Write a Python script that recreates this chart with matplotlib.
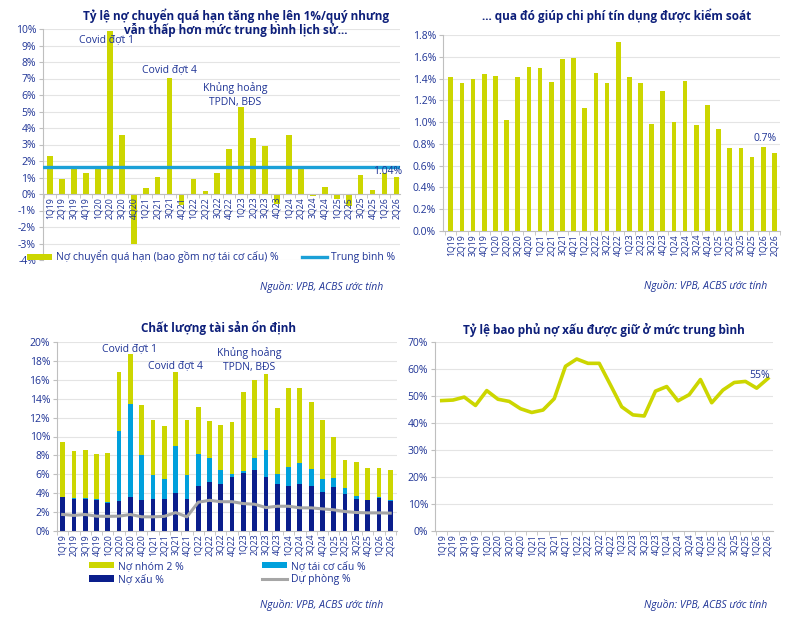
import numpy as np
import matplotlib

matplotlib.use("Agg")
import matplotlib.pyplot as plt
from matplotlib.ticker import FuncFormatter, MultipleLocator

plt.rcParams.update({
    "font.family": ["Open Sans", "DejaVu Sans"],
    "font.size": 7,
})

YEL = "#CCD600"
LBLUE = "#00A0DC"
NAVY = "#0A1E8C"
GRAY = "#A6A6A6"
AVG = "#1BA0D7"
TXT = "#1F3496"
TITLE = "#0D1F7A"
GRID = "#E4E4E4"

W, H = 788, 622

# ── data ────────────────────────────────────────────────────────────
quarters = ["1Q19", "2Q19", "3Q19", "4Q19", "1Q20", "2Q20", "3Q20", "4Q20",
            "1Q21", "2Q21", "3Q21", "4Q21", "1Q22", "2Q22", "3Q22", "4Q22",
            "1Q23", "2Q23", "3Q23", "4Q23", "1Q24", "2Q24", "3Q24", "4Q24",
            "1Q25", "2Q25", "3Q25", "4Q25", "1Q26", "2Q26"]

overdue = [2.3, 0.9, 1.5, 1.25, 1.55, 9.85, 3.55, -3.05, 0.35, 1.05,
           7.05, -0.65, 0.9, 0.2, 1.3, 2.75, 5.3, 3.4, 2.9, -0.6,
           3.55, 1.6, -0.15, 0.4, -0.32, -0.75, 1.15, 0.25, 1.25, 1.04]
overdue_avg = 1.63

credit_cost = [1.41, 1.36, 1.40, 1.44, 1.42, 1.02, 1.41, 1.51, 1.50, 1.37,
               1.58, 1.59, 1.13, 1.45, 1.36, 1.74, 1.41, 1.36, 0.98, 1.29,
               1.00, 1.38, 0.97, 1.16, 0.94, 0.76, 0.76, 0.68, 0.77, 0.72]

npl = [3.55, 3.4, 3.4, 3.3, 3.0, 3.2, 3.6, 3.3, 3.4, 3.4,
       4.0, 3.4, 4.8, 5.2, 5.0, 5.7, 6.15, 6.45, 5.7, 5.0,
       4.8, 5.0, 4.8, 4.15, 4.7, 3.9, 3.4, 3.3, 3.5, 3.2]
restructured = [0.1, 0.05, 0.05, 0.05, 0.05, 7.4, 9.8, 4.75, 2.55, 2.15,
                5.0, 2.55, 3.35, 2.5, 1.45, 0.35, 0.2, 1.3, 2.9, 1.0,
                2.0, 2.2, 1.8, 1.3, 0.95, 0.6, 0.35, 0.03, 0.1, 0.05]
group2 = [5.75, 5.05, 5.15, 4.8, 5.2, 6.2, 5.3, 5.25, 5.75, 5.55,
          7.8, 5.75, 4.95, 3.95, 4.75, 5.45, 8.35, 8.25, 8.0, 7.0,
          8.3, 7.9, 7.1, 6.3, 4.35, 3.0, 3.6, 3.3, 3.05, 3.2]
provision = [1.75, 1.65, 1.75, 1.57, 1.55, 1.57, 1.75, 1.5, 1.5, 1.55,
             1.95, 1.5, 3.04, 3.25, 3.1, 3.1, 2.9, 2.83, 2.48, 2.62,
             2.62, 2.45, 2.45, 2.34, 2.24, 2.06, 1.96, 1.92, 1.92, 1.89]

coverage = [48.3, 48.5, 49.6, 46.5, 52.0, 48.8, 48.0, 45.3, 43.9, 44.8,
            49.0, 61.0, 63.7, 62.1, 62.1, 54.1, 46.0, 43.0, 42.6, 51.8,
            53.5, 48.2, 50.5, 56.1, 47.5, 52.2, 55.0, 55.4, 52.9, 56.5]

SOURCE = "Nguồn: VPB, ACBS ước tính"


def box(l, t, r, b):
    return [l / W, 1 - b / H, (r - l) / W, (b - t) / H]


def fx(px):
    return px / W


def fy(py):
    return 1 - py / H


def style(ax, fmt):
    for s in ("top", "right"):
        ax.spines[s].set_visible(False)
    ax.spines["left"].set_color("#BFBFBF")
    ax.spines["bottom"].set_color("#BFBFBF")
    ax.yaxis.grid(True, color=GRID, lw=0.8)
    ax.set_axisbelow(True)
    ax.yaxis.set_major_formatter(FuncFormatter(fmt))
    ax.tick_params(axis="y", colors="#BFBFBF", labelcolor=TXT, labelsize=7.5,
                   length=3, pad=2)
    ax.tick_params(axis="x", colors="#BFBFBF", labelcolor=TXT, labelsize=6.3,
                   length=0, pad=2, rotation=90)
    ax.set_xticks(np.arange(len(quarters)))
    ax.set_xticklabels(quarters)
    ax.set_xticks(np.arange(len(quarters) + 1) - 0.5, minor=True)
    ax.tick_params(axis="x", which="minor", length=3, color="#BFBFBF")


fig = plt.figure(figsize=(W / 100, H / 100), dpi=100)
x = np.arange(len(quarters))

# ── top left: overdue loans ─────────────────────────────────────────
ax1 = fig.add_axes(box(43, 29, 400, 260))
style(ax1, lambda v, p: f"{v:.0f}%")
ax1.xaxis.set_zorder(3)  # quarter labels sit on top of the negative bars
b_over = ax1.bar(x, overdue, 0.48, color=YEL, zorder=2,
                 label="Nợ chuyển quá hạn (bao gồm nợ tái cơ cấu) %")
l_avg = ax1.axhline(overdue_avg, color=AVG, lw=2.4, zorder=3, label="Trung bình %")
ax1.set_ylim(-4, 10)
ax1.yaxis.set_major_locator(MultipleLocator(1))
ax1.set_xlim(-0.6, 29.3)
ax1.spines["bottom"].set_position(("data", 0))
ax1.text(28.3, overdue[-1] + 0.3, f"{overdue[-1]:.2f}%", ha="center",
         va="center", color=TXT, fontsize=7.5, zorder=4)
ax1.text(4.7, 9.33, "Covid đợt 1", ha="center", va="center", color=TXT, fontsize=7.5)
ax1.text(10.0, 7.55, "Covid đợt 4", ha="center", va="center", color=TXT, fontsize=7.5)
ax1.text(15.5, 6.0, "Khủng hoảng\nTPDN, BĐS", ha="center", va="center",
         color=TXT, fontsize=7.5, linespacing=1.3)
fig.legend(handles=[b_over, l_avg], loc="center", ncol=2, frameon=False,
           bbox_to_anchor=(fx(211), fy(257)), fontsize=7.5, labelcolor=TXT,
           handlelength=2.4, handleheight=0.55, columnspacing=2.2,
           handletextpad=0.4)
fig.text(fx(236), fy(16), "Tỷ lệ nợ chuyển quá hạn tăng nhẹ lên 1%/quý nhưng",
         ha="center", va="center", color=TITLE, fontsize=8.5, fontweight="bold")
fig.text(fx(236), fy(30), "vẫn thấp hơn mức trung bình lịch sử...",
         ha="center", va="center", color=TITLE, fontsize=8.5, fontweight="bold")
fig.text(fx(383), fy(287), SOURCE, ha="right", va="center", color=TXT,
         fontsize=7.5, style="italic")

# ── top right: credit cost ──────────────────────────────────────────
ax2 = fig.add_axes(box(443, 35, 780, 231))
style(ax2, lambda v, p: f"{v:.1f}%")
ax2.bar(x, credit_cost, 0.42, color=YEL, zorder=2)
ax2.set_ylim(0, 1.8)
ax2.yaxis.set_major_locator(MultipleLocator(0.2))
ax2.set_xlim(-0.7, 29.5)
ax2.text(28.2, credit_cost[-2] + 0.03, "0.7%", ha="center", va="bottom",
         color=TXT, fontsize=7.5)
fig.text(fx(617), fy(16), "... qua đó giúp chi phí tín dụng được kiểm soát",
         ha="center", va="center", color=TITLE, fontsize=8.5, fontweight="bold")
fig.text(fx(767), fy(286), SOURCE, ha="right", va="center", color=TXT,
         fontsize=7.5, style="italic")

# ── bottom left: asset quality ──────────────────────────────────────
ax3 = fig.add_axes(box(57, 342, 397, 531))
style(ax3, lambda v, p: f"{v:.0f}%")
bw = 0.42
h_npl = ax3.bar(x, npl, bw, color=NAVY, zorder=2, label="Nợ xấu %")
base = np.array(npl)
h_res = ax3.bar(x, restructured, bw, bottom=base, color=LBLUE, zorder=2,
                label="Nợ tái cơ cấu %")
base = base + np.array(restructured)
h_g2 = ax3.bar(x, group2, bw, bottom=base, color=YEL, zorder=2, label="Nợ nhóm 2 %")
h_prov, = ax3.plot(x, provision, color=GRAY, lw=2.2, zorder=3, label="Dự phòng %")
ax3.set_ylim(0, 20)
ax3.yaxis.set_major_locator(MultipleLocator(2))
ax3.set_xlim(-0.5, 29.6)
ax3.text(5.9, 19.3, "Covid đợt 1", ha="center", va="center", color=TXT, fontsize=7.5)
ax3.text(9.95, 17.45, "Covid đợt 4", ha="center", va="center", color=TXT, fontsize=7.5)
ax3.text(16.5, 18.1, "Khủng hoảng\nTPDN, BĐS", ha="center", va="center",
         color=TXT, fontsize=7.5, linespacing=1.3)
fig.legend(handles=[h_g2, h_npl, h_res, h_prov], loc="center", ncol=2,
           frameon=False, bbox_to_anchor=(fx(227), fy(573)), fontsize=7.5,
           labelcolor=TXT, handlelength=2.4, handleheight=0.55,
           columnspacing=7.5, handletextpad=0.4, labelspacing=0.25)
fig.text(fx(219), fy(328), "Chất lượng tài sản ổn định", ha="center",
         va="center", color=TITLE, fontsize=8.5, fontweight="bold")
fig.text(fx(383), fy(605), SOURCE, ha="right", va="center", color=TXT,
         fontsize=7.5, style="italic")

# ── bottom right: coverage ratio ────────────────────────────────────
ax4 = fig.add_axes(box(435, 342, 773, 531))
style(ax4, lambda v, p: f"{v:.0f}%")
ax4.plot(x, coverage, color=YEL, lw=2.6, zorder=3)
ax4.set_ylim(0, 70)
ax4.yaxis.set_major_locator(MultipleLocator(10))
ax4.set_xlim(-0.6, 29.45)
ax4.text(28.3, 57.7, "55%", ha="center", va="center", color=TXT, fontsize=7.5)
fig.text(fx(604), fy(330), "Tỷ lệ bao phủ nợ xấu được giữ ở mức trung bình",
         ha="center", va="center", color=TITLE, fontsize=8.5, fontweight="bold")
fig.text(fx(767), fy(605), SOURCE, ha="right", va="center", color=TXT,
         fontsize=7.5, style="italic")

fig.savefig("out.png", dpi=100, facecolor="white")
